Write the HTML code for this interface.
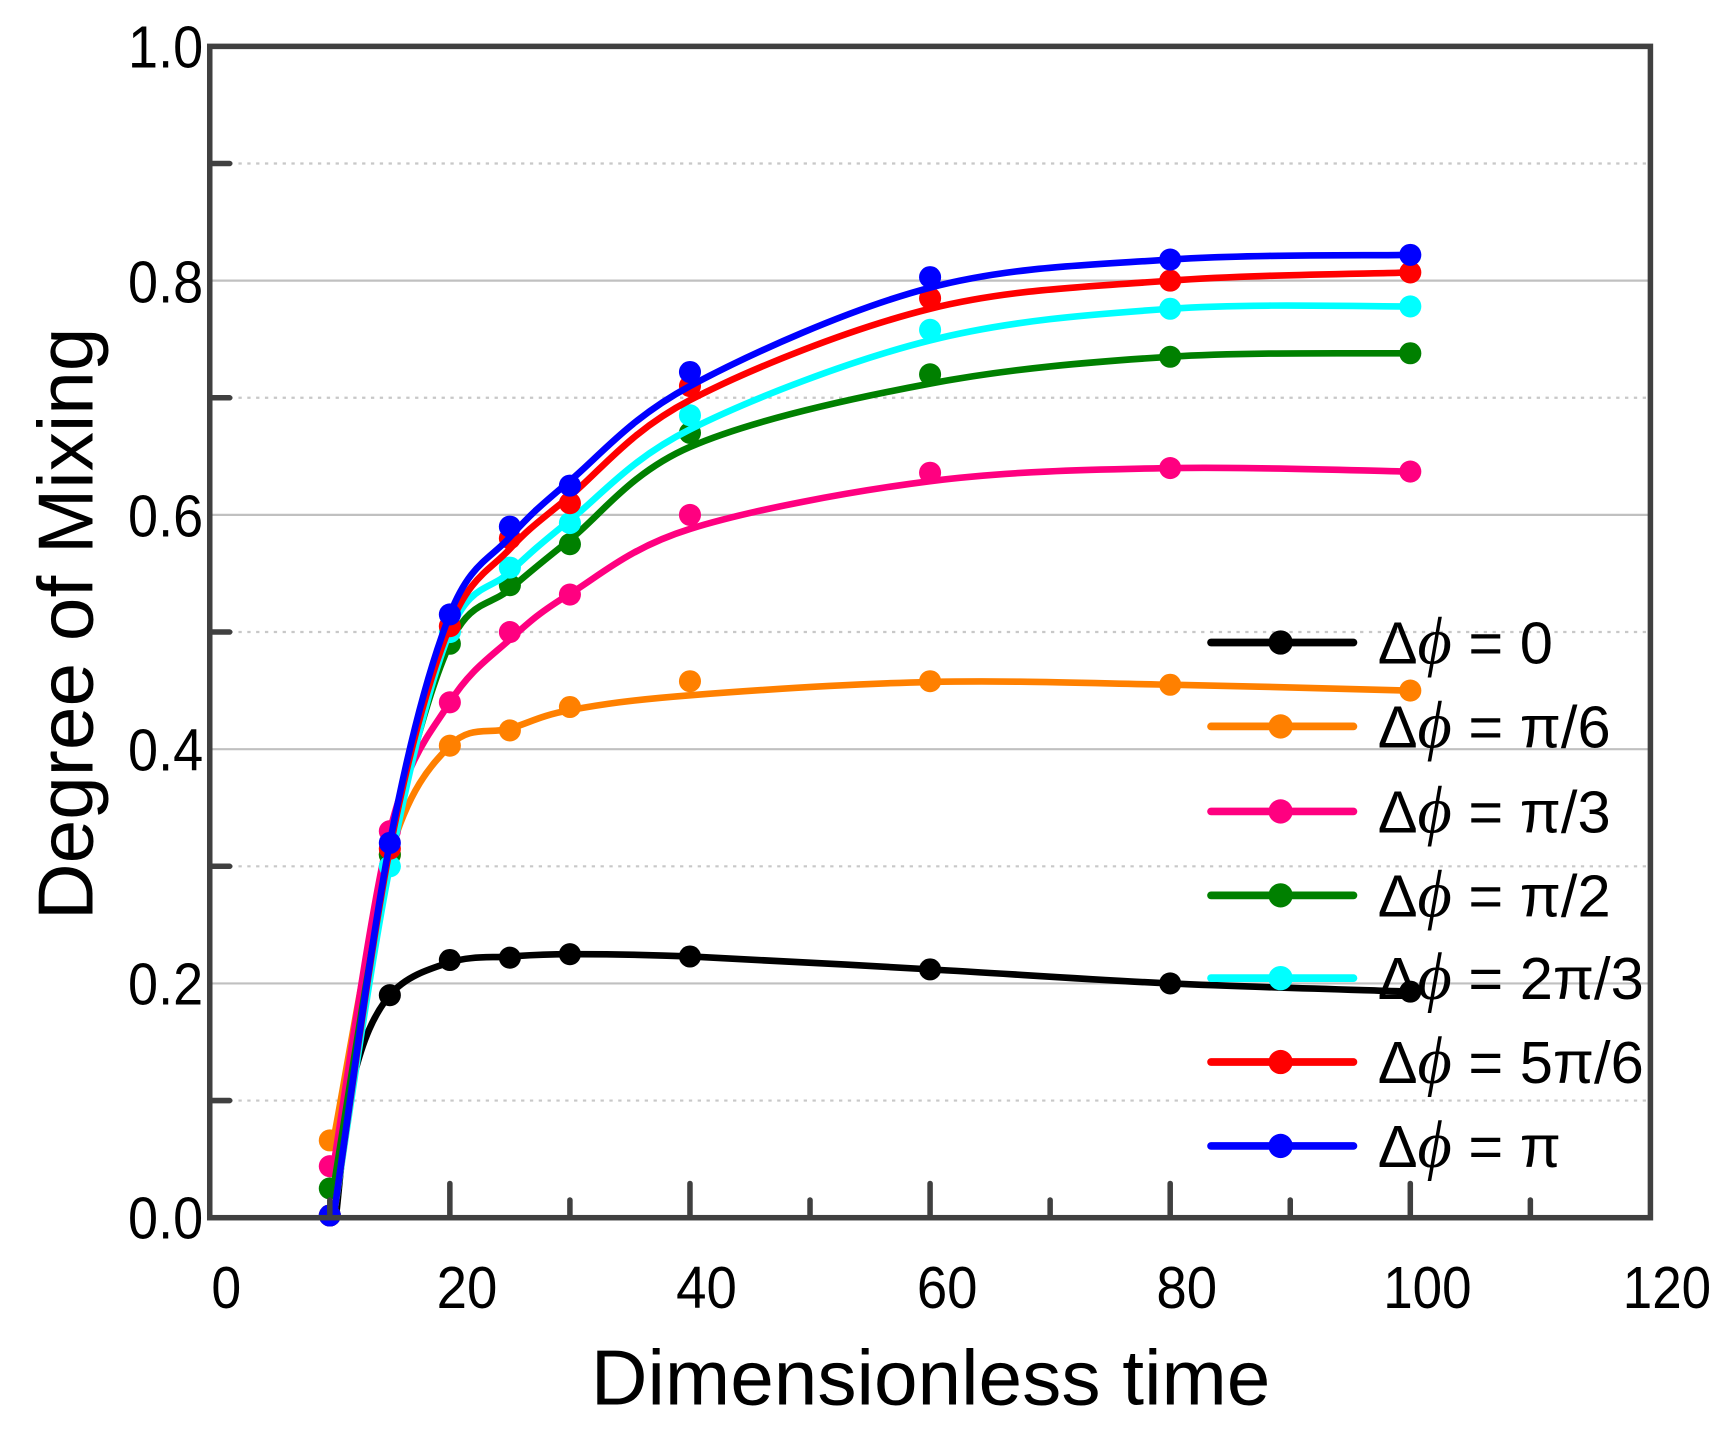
<!DOCTYPE html>
<html><head><style>html,body{margin:0;padding:0;background:#fff}svg{display:block}</style></head>
<body>
<svg id="s" width="1731" height="1430" viewBox="0 0 1568 1295.3" preserveAspectRatio="none" xmlns="http://www.w3.org/2000/svg" font-family="Liberation Sans, sans-serif">
<g id="grid"></g>
<g id="data"></g>
<rect x="190" y="42" width="1305" height="1061" fill="none" stroke="#404040" stroke-width="5"/>
<g id="ticks" stroke="#404040" stroke-width="5" stroke-linecap="round"></g>
<g font-size="54" text-anchor="end" fill="#000">
<text x="184" y="1122" textLength="68" lengthAdjust="spacingAndGlyphs">0.0</text><text x="184" y="910" textLength="68" lengthAdjust="spacingAndGlyphs">0.2</text><text x="184" y="698" textLength="68" lengthAdjust="spacingAndGlyphs">0.4</text><text x="184" y="486" textLength="68" lengthAdjust="spacingAndGlyphs">0.6</text><text x="184" y="274" textLength="68" lengthAdjust="spacingAndGlyphs">0.8</text><text x="184" y="61" textLength="68" lengthAdjust="spacingAndGlyphs">1.0</text>
</g>
<g font-size="54" text-anchor="middle" fill="#000">
<text x="205" y="1185" textLength="27" lengthAdjust="spacingAndGlyphs">0</text><text x="423" y="1185" textLength="55" lengthAdjust="spacingAndGlyphs">20</text><text x="640" y="1185" textLength="55" lengthAdjust="spacingAndGlyphs">40</text><text x="858" y="1185" textLength="55" lengthAdjust="spacingAndGlyphs">60</text><text x="1075" y="1185" textLength="55" lengthAdjust="spacingAndGlyphs">80</text><text x="1293" y="1185" textLength="80" lengthAdjust="spacingAndGlyphs">100</text><text x="1510" y="1185" textLength="80" lengthAdjust="spacingAndGlyphs">120</text>
</g>
<text x="843" y="1272" font-size="71" text-anchor="middle">Dimensionless time</text>
<text transform="translate(84,565) rotate(-90)" font-size="71" text-anchor="middle">Degree of Mixing</text>
<g id="legend"></g>
</svg>
<script>
const NS="http://www.w3.org/2000/svg";
function el(t,a,p){const e=document.createElementNS(NS,t);for(const k in a)e.setAttribute(k,a[k]);document.getElementById(p).appendChild(e);return e;}
const X=x=>190+x*10.875, Y=v=>1103-v*1061;
[0.2,0.4,0.6,0.8].forEach(v=>el('line',{x1:192,x2:1493,y1:Y(v),y2:Y(v),stroke:'#c0c0c0','stroke-width':2},'grid'));
[0.1,0.3,0.5,0.7,0.9].forEach(v=>el('line',{x1:192,x2:1493,y1:Y(v),y2:Y(v),stroke:'#c8c8c8','stroke-width':2,'stroke-dasharray':'3,5'},'grid'));
[0.1,0.3,0.5,0.7,0.9].forEach(v=>el('line',{x1:192,x2:208,y1:Y(v),y2:Y(v)},'ticks'));
[20,40,60,80,100].forEach(x=>el('line',{x1:X(x),x2:X(x),y1:1101,y2:1072},'ticks'));
[10,30,50,70,90,110].forEach(x=>el('line',{x1:X(x),x2:X(x),y1:1101,y2:1087},'ticks'));
const xs=[10,15,20,25,30,40,60,80,100];
const S=[
['#000000',[0.0,0.19,0.22,0.222,0.225,0.223,0.212,0.2,0.193],[[10.5,0],[12,0.12],[15,0.19],[20,0.218],[25,0.223],[30,0.225],[40,0.223],[60,0.212],[80,0.2],[100,0.193]]],
['#ff8000',[0.066,0.31,0.403,0.416,0.436,0.458,0.458,0.455,0.45],null],
['#ff0080',[0.044,0.33,0.44,0.5,0.532,0.6,0.636,0.64,0.637],null],
['#008000',[0.025,0.31,0.49,0.54,0.575,0.67,0.72,0.735,0.738],null],
['#00ffff',[0.0,0.3,0.5,0.555,0.593,0.685,0.758,0.776,0.778],null],
['#ff0000',[0.0,0.315,0.505,0.58,0.61,0.71,0.785,0.8,0.807],null],
['#0000ff',[-0.005,0.32,0.515,0.59,0.625,0.722,0.803,0.818,0.822],null]];
function cr(pts){let d='M'+pts[0][0]+','+pts[0][1];for(let i=0;i<pts.length-1;i++){const p0=pts[i-1]||pts[i],p1=pts[i],p2=pts[i+1],p3=pts[i+2]||p2;const c1=[p1[0]+(p2[0]-p0[0])/6,p1[1]+(p2[1]-p0[1])/6],c2=[p2[0]-(p3[0]-p1[0])/6,p2[1]-(p3[1]-p1[1])/6];d+=`C${c1[0]},${c1[1]} ${c2[0]},${c2[1]} ${p2[0]},${p2[1]}`;}return d;}
S.forEach(([c,vs,lp])=>{
  let pts;
  if(lp) pts=lp.map(p=>[X(p[0]),Y(p[1])]);
  else{
    const sm=vs.slice();
    for(let i=3;i<=6;i++){
      const xl=xs[i-1],xr=xs[i+1],x=xs[i];
      const interp=vs[i-1]+(vs[i+1]-vs[i-1])*(x-xl)/(xr-xl);
      sm[i]=0.55*vs[i]+0.45*Math.max(interp, vs[i]-0.02);
    }
    sm[5]=vs[5]-0.012;
    pts=xs.map((x,i)=>[X(i==0?10.3:x),Y(i==0?Math.max(vs[0],0):sm[i])]);
  }
  el('path',{d:cr(pts),fill:'none',stroke:c,'stroke-width':6},'data');
  xs.forEach((x,i)=>{if(vs[i]>=-0.01)el('circle',{cx:X(x),cy:Math.min(Y(vs[i]),1101),r:10,fill:c},'data');});
});
const L=[['#000000','0'],['#ff8000','π/6'],['#ff0080','π/3'],['#008000','π/2'],['#00ffff','2π/3'],['#ff0000','5π/6'],['#0000ff','π']];
const ly=[582,658,735,811,886,962,1038];
L.forEach(([c,t],i)=>{
  const y=ly[i];
  el('line',{x1:1097,x2:1226,y1:y,y2:y,stroke:c,'stroke-width':7,'stroke-linecap':'round'},'legend');
  el('circle',{cx:1160,cy:y,r:11,fill:c},'legend');
  const tx=el('text',{x:1248,y:y+19,'font-size':54,fill:'#000'},'legend');
  tx.innerHTML='Δ<tspan font-family="Liberation Serif, serif" font-style="italic" font-size="60">ϕ</tspan> = '+t;
});
</script>
</body></html>
